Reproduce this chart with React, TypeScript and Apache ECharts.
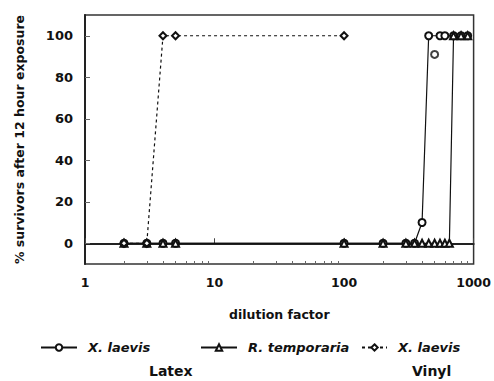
import React, { useEffect, useRef } from "react";
import * as echarts from "echarts";

// dilution factor (x) and % survivors (y)
const latexXlDilution = [2, 3, 4, 5, 100, 200, 300, 350, 400, 450, 550, 600, 700, 800, 900];
const latexXlSurvival = [0, 0, 0, 0, 0, 0, 0, 0, 10, 100, 100, 100, 100, 100, 100];
const latexXlExtraDilution = [500];
const latexXlExtraSurvival = [91];
const latexRtDilution = [2, 3, 4, 5, 100, 200, 300, 350, 400, 450, 500, 550, 600, 650, 700, 800, 900];
const latexRtSurvival = [0, 0, 0, 0, 0, 0, 0, 0, 0, 0, 0, 0, 0, 0, 100, 100, 100];
const vinylXlDilution = [2, 3, 4, 5, 100];
const vinylXlSurvival = [0, 0, 100, 100, 100];

const yTicks = [0, 20, 40, 60, 80, 100];
const xMinorTicks = [2, 3, 4, 5, 6, 7, 8, 9, 20, 30, 40, 50, 60, 70, 80, 90, 200, 300, 400, 500, 600, 700, 800, 900];

const legendLabels: Record<string, string> = {
  latexXl: "X. laevis",
  latexRt: "R. temporaria",
  vinylXl: "X. laevis",
};

const zip = (xs: number[], ys: number[]) => xs.map((x, i) => [x, ys[i]]);

const FONT = "DejaVu Sans";

export default function App() {
  const ref = useRef<HTMLDivElement>(null);
  useEffect(() => {
    document.body.style.margin = "0";
    if (!ref.current) return;
    const chart = echarts.init(ref.current, undefined, { renderer: "svg" });
    const legendText = {
      fontFamily: FONT,
      fontStyle: "italic" as const,
      fontWeight: "bold" as const,
      fontSize: 13,
      color: "#111",
      padding: [0, 0, 0, 6],
    };
    const legendBase = {
      top: 341,
      padding: 0,
      itemHeight: 8,
      formatter: (n: string) => legendLabels[n],
      textStyle: legendText,
    };
    chart.setOption({
      animation: false,
      backgroundColor: "#fff",
      grid: {
        left: 85,
        top: 15,
        right: 20,
        bottom: 117,
        show: true,
        borderColor: "#333",
        borderWidth: 1.5,
        backgroundColor: "transparent",
      },
      xAxis: [
        {
          type: "log",
          logBase: 10,
          min: 1,
          max: 1000,
          name: "dilution factor",
          nameLocation: "middle",
          nameGap: 44,
          nameTextStyle: { fontFamily: FONT, fontWeight: "bold", fontSize: 12.5, color: "#111" },
          axisLine: { show: true, lineStyle: { color: "#222", width: 2 } },
          axisTick: { show: true, inside: true, length: 5, lineStyle: { color: "#444" } },
          axisLabel: {
            fontFamily: FONT,
            fontWeight: "bold",
            fontSize: 12.5,
            color: "#111",
            margin: 12,
            formatter: (v: number) => String(Math.round(v)),
          },
          splitLine: { show: false },
          minorTick: { show: false },
        },
        {
          // decades axis (log10 units) used only to place the minor ticks
          type: "value",
          min: 0,
          max: 3,
          position: "bottom",
          axisLine: { show: false },
          axisTick: {
            show: true,
            inside: true,
            length: 3,
            customValues: xMinorTicks.map((v) => Math.log10(v)),
            lineStyle: { color: "#666" },
          },
          axisLabel: { show: false },
          splitLine: { show: false },
        },
      ],
      yAxis: {
        type: "value",
        min: -10,
        max: 110,
        name: "% survivors after 12 hour exposure",
        nameLocation: "middle",
        nameGap: 59,
        nameTextStyle: { fontFamily: FONT, fontWeight: "bold", fontSize: 12.5, color: "#111" },
        axisLine: { show: true, lineStyle: { color: "#222", width: 2 } },
        axisTick: { show: true, inside: true, length: 5, customValues: yTicks, lineStyle: { color: "#666" } },
        axisLabel: { customValues: yTicks, fontFamily: FONT, fontWeight: "bold", fontSize: 13, color: "#111", margin: 12 },
        splitLine: { show: false },
      },
      legend: [
        { ...legendBase, data: ["latexXl"], left: 40, itemWidth: 36 },
        { ...legendBase, data: ["latexRt"], left: 200, itemWidth: 36 },
        { ...legendBase, data: ["vinylXl"], left: 361, itemWidth: 25 },
      ],
      graphic: [
        {
          type: "text",
          left: 149,
          top: 364,
          style: { text: "Latex", fontFamily: FONT, fontWeight: "bold", fontSize: 14, fill: "#111" },
        },
        {
          type: "text",
          left: 412,
          top: 364,
          style: { text: "Vinyl", fontFamily: FONT, fontWeight: "bold", fontSize: 14, fill: "#111" },
        },
      ],
      series: [
        {
          name: "latexXl",
          type: "line",
          data: zip(latexXlDilution, latexXlSurvival),
          symbol: "emptyCircle",
          symbolSize: 7,
          color: "#111",
          itemStyle: { color: "#111", borderWidth: 1.2 },
          lineStyle: { color: "#111", width: 1.2 },
        },
        {
          name: "latexXlExtra",
          type: "scatter",
          data: zip(latexXlExtraDilution, latexXlExtraSurvival),
          symbol: "emptyCircle",
          symbolSize: 7,
          itemStyle: { color: "#111", borderWidth: 1.2 },
        },
        {
          name: "latexRt",
          type: "line",
          data: zip(latexRtDilution, latexRtSurvival),
          symbol: "emptyTriangle",
          symbolSize: 7,
          color: "#111",
          itemStyle: { color: "#111", borderWidth: 1.2 },
          lineStyle: { color: "#111", width: 1.2 },
        },
        {
          name: "vinylXl",
          type: "line",
          data: zip(vinylXlDilution, vinylXlSurvival),
          symbol: "emptyDiamond",
          symbolSize: 7,
          color: "#111",
          itemStyle: { color: "#111", borderWidth: 1.2 },
          lineStyle: { color: "#111", width: 1.2, type: [3, 3] },
        },
      ],
    });
    return () => chart.dispose();
  }, []);
  return <div ref={ref} style={{ width: 494, height: 381 }} />;
}
